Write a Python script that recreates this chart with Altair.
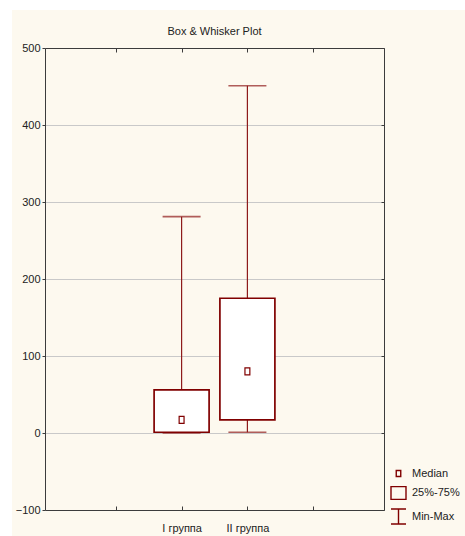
import altair as alt
import pandas as pd

# Summary statistics per group
groups = ["I группа", "II группа"]
mins = [0, 1]
q1s = [1, 17]
medians = [17, 80]
q3s = [56, 175]
maxs = [281, 451]

legend_items = ["Median", "25%-75%", "Min-Max"]
y_ticks = [-100, 0, 100, 200, 300, 400, 500]
x_slots = [1, 2, 3, 4]

DARK_RED = "#800000"
WHISKER = "#8e1b1b"
CREAM = "#fdf9ef"
FRAME = "#3c3c3c"
TEXT = "#222222"
FONT = "Liberation Sans Narrow, Arial Narrow, Liberation Sans, sans-serif"
FS = 11

W, H = 339, 462
PAD_L, PAD_T, PAD_R, PAD_B = 45, 48, 81, 26

# groups sit in the middle slots of a 0..5 axis
df = pd.DataFrame({
    "group": groups,
    "slot": [i + 2 for i in range(len(groups))],
    "min": mins,
    "q1": q1s,
    "median": medians,
    "q3": q3s,
    "max": maxs,
})

label_expr = " : ".join(
    f"datum.value == {s} ? '{g}'" for s, g in zip(df["slot"], df["group"])
) + " : ''"

x_scale = alt.Scale(domain=[0, 5], nice=False, zero=False)
y_scale = alt.Scale(domain=[-100, 500], nice=False, zero=False)

# bottom labels
x_label_axis = alt.Axis(
    orient="bottom", values=list(df["slot"]), labelExpr=label_expr, ticks=False,
    domain=False, grid=False, title=None, labelFont=FONT, labelFontSize=FS,
    labelColor=TEXT, labelPadding=12,
)
# left labels, outward ticks and grid
y_label_axis = alt.Axis(
    orient="left", values=y_ticks, grid=True, gridColor="#c9c9c9", gridWidth=1,
    domain=True, domainColor=FRAME, ticks=True, tickSize=3, tickColor=FRAME,
    labelFont=FONT, labelFontSize=FS, labelColor=TEXT, labelPadding=2, title=None,
)
# bottom edge with inward ticks
x_bottom_ticks = alt.Axis(
    orient="top", offset=-H, values=x_slots, labels=False, grid=False,
    domain=True, domainColor=FRAME, ticks=True, tickSize=4, tickColor=FRAME,
    title=None, zindex=1,
)
# top edge with inward ticks
x_top_ticks = alt.Axis(
    orient="bottom", offset=-H, values=x_slots, labels=False, grid=False,
    domain=True, domainColor=FRAME, ticks=True, tickSize=4, tickColor=FRAME,
    title=None, zindex=1,
)
# right edge with inward ticks
y_right_ticks = alt.Axis(
    orient="left", offset=-W, values=y_ticks, labels=False, grid=False,
    domain=True, domainColor=FRAME, ticks=True, tickSize=3, tickColor=FRAME,
    title=None, zindex=1,
)

one_row = alt.Data(values=[{}])

# white margin strips around the cream panel
strip_left = alt.Chart(one_row).mark_rect(color="white").encode(
    x=alt.value(-PAD_L), x2=alt.value(-33), y=alt.value(-PAD_T), y2=alt.value(H + PAD_B)
)
strip_top = alt.Chart(one_row).mark_rect(color="white").encode(
    x=alt.value(-PAD_L), x2=alt.value(W + PAD_R), y=alt.value(-PAD_T), y2=alt.value(-38)
)

base = alt.Chart(df)

stems = base.mark_rule(color=WHISKER, strokeWidth=1.2).encode(
    x=alt.X("slot:Q", scale=x_scale, axis=x_label_axis),
    y=alt.Y("min:Q", scale=y_scale, axis=y_label_axis),
    y2="max:Q",
)

cap_max = base.mark_tick(orient="horizontal", size=38, thickness=1.6, color=WHISKER).encode(
    x=alt.X("slot:Q", scale=x_scale, axis=x_bottom_ticks),
    y=alt.Y("max:Q", scale=y_scale, axis=y_right_ticks),
)

cap_min = base.mark_tick(orient="horizontal", size=38, thickness=1.6, color=WHISKER).encode(
    x=alt.X("slot:Q", scale=x_scale, axis=x_top_ticks),
    y=alt.Y("min:Q", scale=y_scale, axis=None),
)

boxes = base.mark_bar(size=55, fill="white", stroke=DARK_RED, strokeWidth=1.7).encode(
    x=alt.X("slot:Q", scale=x_scale, axis=None),
    y=alt.Y("q1:Q", scale=y_scale, axis=None),
    y2="q3:Q",
)

median_shape = "M-0.7,-1H0.7V1H-0.7Z"
median_pts = base.mark_point(
    shape=median_shape, size=49, filled=True, fill="white", stroke=DARK_RED,
    strokeWidth=1.2, opacity=1,
).encode(
    x=alt.X("slot:Q", scale=x_scale, axis=None),
    y=alt.Y("median:Q", scale=y_scale, axis=None),
)

# key: median marker, quartile box, min-max whisker
legend_paths = [
    "M-0.3,-0.4H0.3V0.4H-0.3Z",
    "M-1,-0.85H1V0.85H-1Z",
    "M-1,-1H1M0,-1V1M-1,1H1",
]
key = alt.Chart(pd.DataFrame({"item": legend_items})).mark_point(
    opacity=0, color=DARK_RED
).encode(
    shape=alt.Shape(
        "item:N",
        scale=alt.Scale(domain=legend_items, range=legend_paths),
        legend=alt.Legend(
            title=None, orient="none", legendX=345, legendY=417, padding=0,
            symbolSize=225, symbolStrokeColor=DARK_RED, symbolFillColor="transparent",
            symbolStrokeWidth=1.4, symbolOpacity=1, labelFont=FONT,
            labelFontSize=FS, labelColor=TEXT, labelOffset=5, rowPadding=3.5,
        ),
    )
)

# the margin strips reach the top of the canvas, so the title is pulled
# back down to sit just above the plot frame
chart = alt.layer(
    strip_left, strip_top, stems, cap_max, cap_min, boxes, median_pts, key
).resolve_axis(
    x="independent", y="independent"
).properties(
    width=W,
    height=H,
    title=alt.TitleParams(
        "Box & Whisker Plot", font=FONT, fontSize=FS, fontWeight="normal",
        color=TEXT, anchor="middle", baseline="bottom", offset=-PAD_T,
        frame="group",
    ),
    autosize=alt.AutoSizeParams(type="none"),
    padding={"left": PAD_L, "top": PAD_T, "right": PAD_R, "bottom": PAD_B},
).configure(
    background=CREAM,
).configure_view(
    stroke=None, fill="white",
)

chart.save("out.html", embed_options={"renderer": "svg", "actions": False})
